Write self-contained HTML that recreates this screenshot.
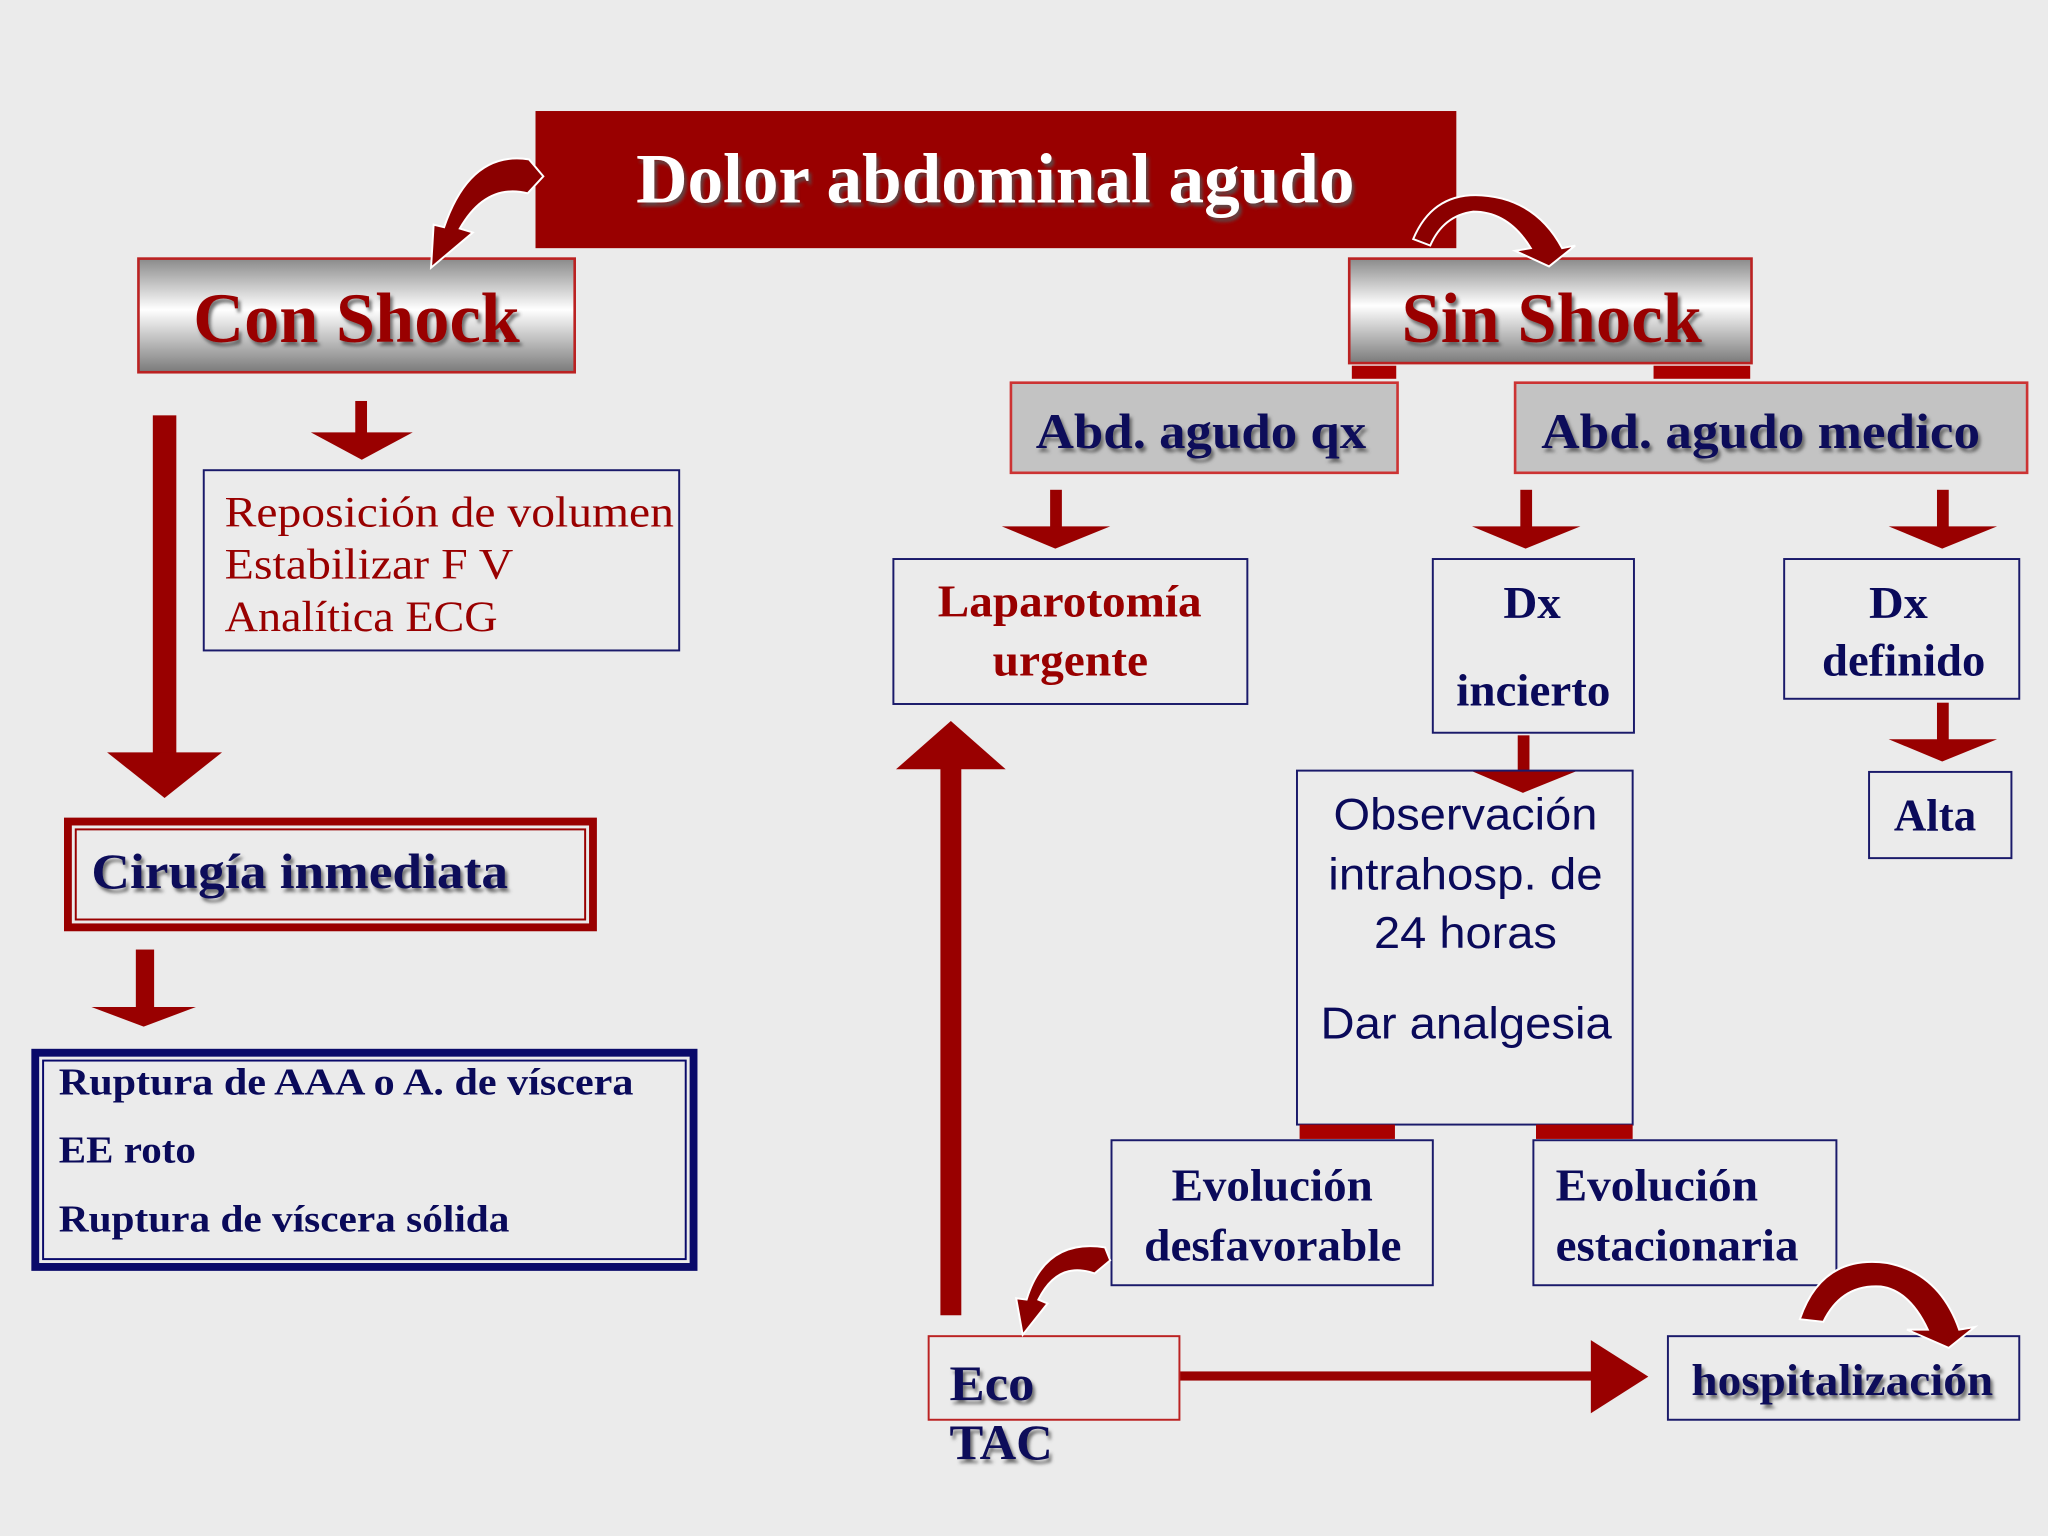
<!DOCTYPE html>
<html><head><meta charset="utf-8"><style>
html,body{margin:0;padding:0;background:#ebebeb;}
svg{display:block;}
text{font-family:"Liberation Serif",serif;font-weight:bold;}
.sans{font-family:"Liberation Sans",sans-serif;font-weight:normal;}
</style></head><body>
<svg width="2048" height="1536" viewBox="0 0 1568 1176" xmlns="http://www.w3.org/2000/svg">
<defs>
<linearGradient id="g" x1="0" y1="0" x2="0" y2="1">
<stop offset="0" stop-color="#8a8a8a"/><stop offset="0.45" stop-color="#ffffff"/><stop offset="1" stop-color="#7a7a7a"/>
</linearGradient>
<filter id="sh" x="-5%" y="-20%" width="110%" height="140%"><feDropShadow dx="2" dy="3" stdDeviation="1.2" flood-color="#555" flood-opacity="0.8"/></filter>
</defs>
<rect width="1568" height="1176" fill="#ebebeb"/>
<g fill="#990000">
<!-- title -->
<rect x="410" y="85" width="705" height="105"/>
</g>
<text x="487" y="155" font-size="54" fill="#fff" textLength="550" lengthAdjust="spacingAndGlyphs" filter="url(#sh)">Dolor abdominal agudo</text>

<!-- Con Shock / Sin Shock -->
<rect x="106" y="198" width="334" height="87" fill="url(#g)" stroke="#b22" stroke-width="2"/>
<text x="148" y="262" font-size="54" fill="#990000" textLength="250" lengthAdjust="spacingAndGlyphs" filter="url(#sh)">Con Shock</text>
<rect x="1033" y="198" width="308" height="80" fill="url(#g)" stroke="#b22" stroke-width="2"/>
<text x="1073" y="262" font-size="54" fill="#990000" textLength="230" lengthAdjust="spacingAndGlyphs" filter="url(#sh)">Sin Shock</text>
<rect x="1035" y="280" width="34" height="10" fill="#aa0000"/>
<rect x="1266" y="280" width="74" height="10" fill="#aa0000"/>

<!-- Abd boxes -->
<rect x="774" y="293" width="296" height="69" fill="#c3c3c3" stroke="#c33" stroke-width="2"/>
<text x="793" y="343" font-size="38" fill="#0a0a5a" textLength="253" lengthAdjust="spacingAndGlyphs" filter="url(#sh)">Abd. agudo qx</text>
<rect x="1160" y="293" width="392" height="69" fill="#c3c3c3" stroke="#c33" stroke-width="2"/>
<text x="1180" y="343" font-size="38" fill="#0a0a5a" textLength="336" lengthAdjust="spacingAndGlyphs" filter="url(#sh)">Abd. agudo medico</text>

<!-- arrows -->
<g fill="#990000">
<rect x="272" y="307" width="9" height="26"/><polygon points="238,331 316,331 277,352"/>
<rect x="117" y="318" width="18" height="260"/><polygon points="82,576 170,576 126,611"/>
<rect x="104" y="727" width="14" height="45"/><polygon points="70,771 150,771 110,786"/>
<rect x="804" y="375" width="9" height="30"/><polygon points="767,403 850,403 808,420"/>
<rect x="1164" y="375" width="9" height="30"/><polygon points="1127,403 1210,403 1168,420"/>
<rect x="1483" y="375" width="9" height="30"/><polygon points="1446,403 1529,403 1487,420"/>
<rect x="1483" y="538" width="9" height="30"/><polygon points="1446,566 1529,566 1487,583"/>
<rect x="1162" y="563" width="9" height="28"/><polygon points="1126,590 1208,590 1166,607"/>
<rect x="720" y="585" width="16" height="422"/><polygon points="686,589 770,589 728,552"/>
<rect x="903" y="1050" width="320" height="7"/><polygon points="1218,1026 1218,1082 1262,1054"/>
</g>

<!-- Reposición -->
<rect x="156" y="360" width="364" height="138" fill="none" stroke="#1a1a6a" stroke-width="1.5"/>
<g font-weight="normal" fill="#990000" font-size="33" style="font-weight:normal">
<text x="172" y="403" textLength="344" lengthAdjust="spacingAndGlyphs" style="font-weight:normal">Reposición de volumen</text>
<text x="172" y="443" textLength="221" lengthAdjust="spacingAndGlyphs" style="font-weight:normal">Estabilizar F V</text>
<text x="172" y="483" textLength="209" lengthAdjust="spacingAndGlyphs" style="font-weight:normal">Analítica ECG</text>
</g>

<!-- Cirugía -->
<rect x="52" y="629" width="402" height="81" fill="none" stroke="#990000" stroke-width="6"/>
<rect x="58" y="635" width="390" height="69" fill="none" stroke="#990000" stroke-width="1.5"/>
<text x="70" y="680" font-size="38" fill="#0a0a5a" textLength="319" lengthAdjust="spacingAndGlyphs" filter="url(#sh)">Cirugía inmediata</text>

<!-- Ruptura -->
<rect x="27" y="806" width="504" height="164" fill="none" stroke="#0a0a6a" stroke-width="6"/>
<rect x="33" y="812" width="492" height="152" fill="none" stroke="#0a0a6a" stroke-width="1.5"/>
<g fill="#0a0a5a" font-size="29">
<text x="45" y="838" textLength="440" lengthAdjust="spacingAndGlyphs">Ruptura de  AAA o A. de víscera</text>
<text x="45" y="890" textLength="105" lengthAdjust="spacingAndGlyphs">EE roto</text>
<text x="45" y="943" textLength="345" lengthAdjust="spacingAndGlyphs">Ruptura de víscera sólida</text>
</g>

<!-- Laparotomía -->
<rect x="684" y="428" width="271" height="111" fill="none" stroke="#1a1a6a" stroke-width="1.5"/>
<text x="718" y="472" font-size="35" fill="#990000" textLength="202" lengthAdjust="spacingAndGlyphs">Laparotomía</text>
<text x="760" y="517" font-size="35" fill="#990000" textLength="119" lengthAdjust="spacingAndGlyphs">urgente</text>

<!-- Dx incierto -->
<rect x="1097" y="428" width="154" height="133" fill="none" stroke="#1a1a6a" stroke-width="1.5"/>
<g fill="#0a0a5a" font-size="35">
<text x="1151" y="473" textLength="44" lengthAdjust="spacingAndGlyphs">Dx</text>
<text x="1115" y="540" textLength="118" lengthAdjust="spacingAndGlyphs">incierto</text>
</g>
<!-- Dx definido -->
<rect x="1366" y="428" width="180" height="107" fill="none" stroke="#1a1a6a" stroke-width="1.5"/>
<g fill="#0a0a5a" font-size="35">
<text x="1431" y="473" textLength="45" lengthAdjust="spacingAndGlyphs">Dx</text>
<text x="1395" y="517" textLength="125" lengthAdjust="spacingAndGlyphs">definido</text>
</g>
<!-- Alta -->
<rect x="1431" y="591" width="109" height="66" fill="none" stroke="#1a1a6a" stroke-width="1.5"/>
<text x="1450" y="636" font-size="35" fill="#0a0a5a" textLength="63" lengthAdjust="spacingAndGlyphs">Alta</text>

<!-- Observación -->
<rect x="993" y="590" width="257" height="271" fill="none" stroke="#1a1a6a" stroke-width="1.5"/>
<g fill="#0a0a5a" font-size="34" class="sans">
<text class="sans" x="1021" y="635" textLength="202" lengthAdjust="spacingAndGlyphs">Observación</text>
<text class="sans" x="1017" y="681" textLength="210" lengthAdjust="spacingAndGlyphs">intrahosp. de</text>
<text class="sans" x="1052" y="726" textLength="140" lengthAdjust="spacingAndGlyphs">24 horas</text>
<text class="sans" x="1011" y="795" textLength="223" lengthAdjust="spacingAndGlyphs">Dar analgesia</text>
</g>
<rect x="995" y="861" width="73" height="11" fill="#aa0000"/>
<rect x="1176" y="861" width="74" height="11" fill="#aa0000"/>

<!-- Evolución boxes -->
<rect x="851" y="873" width="246" height="111" fill="none" stroke="#1a1a6a" stroke-width="1.5"/>
<g fill="#0a0a5a" font-size="35">
<text x="897" y="919" textLength="154" lengthAdjust="spacingAndGlyphs">Evolución</text>
<text x="876" y="965" textLength="197" lengthAdjust="spacingAndGlyphs">desfavorable</text>
</g>
<rect x="1174" y="873" width="232" height="111" fill="none" stroke="#1a1a6a" stroke-width="1.5"/>
<g fill="#0a0a5a" font-size="35">
<text x="1191" y="919" textLength="155" lengthAdjust="spacingAndGlyphs">Evolución</text>
<text x="1191" y="965" textLength="186" lengthAdjust="spacingAndGlyphs">estacionaria</text>
</g>

<!-- Eco TAC -->
<rect x="711" y="1023" width="192" height="64" fill="none" stroke="#b22" stroke-width="1.5"/>
<g fill="#0a0a5a" font-size="38" filter="url(#sh)">
<text x="727" y="1072" textLength="65" lengthAdjust="spacingAndGlyphs">Eco</text>
<text x="727" y="1117" textLength="79" lengthAdjust="spacingAndGlyphs">TAC</text>
</g>
<!-- hospitalización -->
<rect x="1277" y="1023" width="269" height="64" fill="none" stroke="#1a1a6a" stroke-width="1.5"/>
<text x="1295" y="1068" font-size="34" fill="#0a0a5a" textLength="231" lengthAdjust="spacingAndGlyphs" filter="url(#sh)">hospitalización</text>

<!-- curved arrows -->
<g fill="#8b0000" stroke="#fff" stroke-width="1.5">
<path d="M416,135 L404,148 Q372,140 352,175 L362,178 L330,205 L332,172 L340,174 Q360,115 405,122 Z"/>
<path d="M1082,183 Q1100,140 1150,152 Q1180,160 1196,190 L1206,188 L1186,204 L1160,192 L1172,190 Q1155,162 1128,162 Q1105,165 1095,188 Z"/>
<path d="M850,965 L838,975 Q810,965 795,995 L802,998 L783,1022 L778,994 L786,995 Q800,948 846,955 Z"/>
<path d="M1378,1010 Q1395,960 1445,967 Q1485,975 1500,1018 L1512,1016 L1492,1032 L1460,1018 L1476,1018 Q1462,988 1440,985 Q1410,983 1396,1012 Z"/>
</g>
</svg>
</body></html>
